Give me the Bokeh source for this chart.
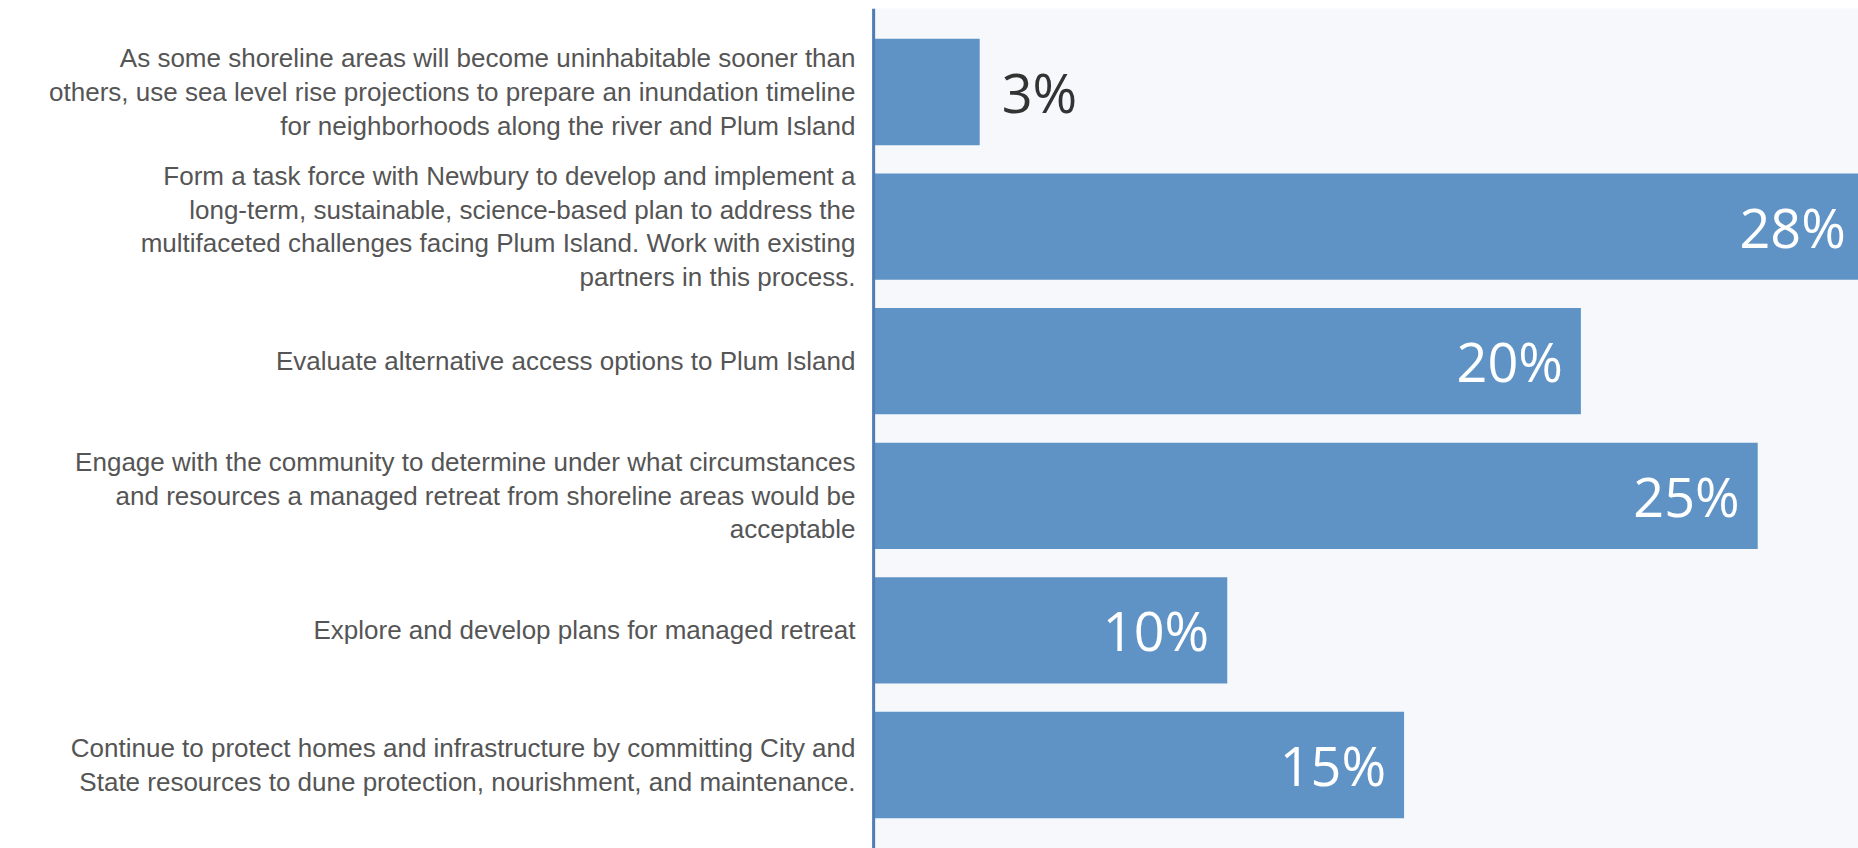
from bokeh.plotting import figure
from bokeh.layouts import row
from bokeh.models import Range1d, FactorRange, Span, ColumnDataSource
from bokeh.core.properties import value
from bokeh.embed import file_html
from bokeh.resources import INLINE

# Survey options (top to bottom) and the share of responses for each
options = [
    "As some shoreline areas will become uninhabitable sooner than\nothers, use sea level rise projections to prepare an inundation timeline\nfor neighborhoods along the river and Plum Island",
    "Form a task force with Newbury to develop and implement a\nlong-term, sustainable, science-based plan to address the\nmultifaceted challenges facing Plum Island. Work with existing\npartners in this process.",
    "Evaluate alternative access options to Plum Island",
    "Engage with the community to determine under what circumstances\nand resources a managed retreat from shoreline areas would be\nacceptable",
    "Explore and develop plans for managed retreat",
    "Continue to protect homes and infrastructure by committing City and\nState resources to dune protection, nourishment, and maintenance.",
]
shares = [3, 28, 20, 25, 10, 15]
share_labels = [f"{v}%" for v in shares]

BAR = "#6093c5"
PANEL = "#f6f8fb"
AXIS = "#4f7db3"

src = ColumnDataSource(dict(option=options, share=shares, label=share_labels))

# Long bars carry their value inside; short ones get it just past the end
inside_src = ColumnDataSource(dict(
    option=[o for o, v in zip(options, shares) if v >= 5],
    share=[v for v in shares if v >= 5],
    label=[l for l, v in zip(share_labels, shares) if v >= 5],
))
outside_src = ColumnDataSource(dict(
    option=[o for o, v in zip(options, shares) if v < 5],
    share=[v for v in shares if v < 5],
    label=[l for l, v in zip(share_labels, shares) if v < 5],
))

y_range = FactorRange(factors=list(reversed(options)),
                      range_padding=0.12, range_padding_units="absolute")

# Left panel: wrapped option texts, right-aligned against the bar axis
left = figure(width=871, height=848, x_range=Range1d(0, 1), y_range=y_range,
              output_backend="svg", toolbar_location=None,
              min_border_left=0, min_border_right=0,
              min_border_top=8, min_border_bottom=0)
left.axis.visible = False
left.grid.visible = False
left.outline_line_color = None
left.background_fill_color = "white"
left.border_fill_color = "white"
left.text(x=1, y="option", text="option", source=src,
          text_align="right", text_baseline="middle", x_offset=-16,
          text_font=value("Liberation Sans"), text_font_size="26px",
          text_color="#555555", text_line_height=1.12)

# Right panel: horizontal bars
right = figure(width=987, height=848, x_range=Range1d(-0.06, 27.85), y_range=y_range,
               output_backend="svg", toolbar_location=None,
               min_border_left=0, min_border_right=0,
               min_border_top=8, min_border_bottom=0)
right.axis.visible = False
right.grid.visible = False
right.outline_line_color = None
right.background_fill_color = PANEL
right.border_fill_color = "white"

right.hbar(y="option", left=0, right="share", height=0.79, source=src,
           fill_color=BAR, line_color=None)
right.add_layout(Span(location=0, dimension="height", line_color=AXIS, line_width=3))

right.text(x="share", y="option", text="label", source=inside_src,
           text_align="right", text_baseline="middle", x_offset=-18,
           text_font=value("Open Sans"), text_font_size="54px", text_color="white")
right.text(x="share", y="option", text="label", source=outside_src,
           text_align="left", text_baseline="middle", x_offset=22,
           text_font=value("Open Sans"), text_font_size="54px", text_color="#333333")

layout = row(left, right, spacing=0)
open("out.html", "w").write(file_html(layout, INLINE))
